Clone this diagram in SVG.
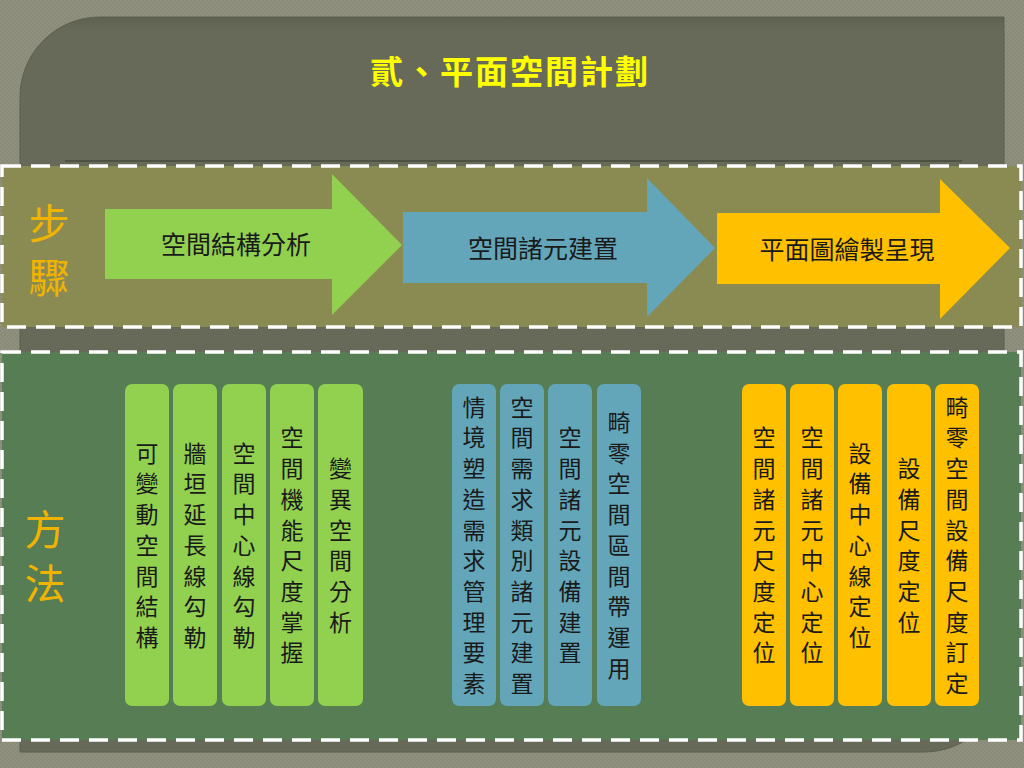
<svg xmlns="http://www.w3.org/2000/svg" width="1024" height="768" viewBox="0 0 1024 768">
<defs>
<pattern id="tex" width="4" height="4" patternUnits="userSpaceOnUse">
<rect width="4" height="4" fill="#8a8b79"/>
<rect width="2" height="2" fill="#8f907e"/>
<rect x="2" y="2" width="2" height="2" fill="#8f907e"/>
</pattern>
<linearGradient id="panelShade" x1="0" y1="0" x2="0" y2="1">
<stop offset="0" stop-color="#5f6251"/>
<stop offset="0.02" stop-color="#676a59"/>
<stop offset="1" stop-color="#676a59"/>
</linearGradient>
</defs>
<style>
.cjk{font-family:"Noto Sans CJK TC","Noto Sans CJK SC",sans-serif;}
.band{stroke:#ffffff;stroke-width:3.5;stroke-dasharray:19 10;}
.bt{font-family:"Noto Sans CJK TC","Noto Sans CJK SC",sans-serif;font-size:23px;fill:#1a1a1a;text-anchor:middle;writing-mode:vertical-rl;letter-spacing:7.7px;}
.at{font-family:"Noto Sans CJK TC","Noto Sans CJK SC",sans-serif;font-size:25px;fill:#1a1a1a;text-anchor:middle;}
.lab{font-family:"Noto Sans CJK TC","Noto Sans CJK SC",sans-serif;font-size:41px;fill:#f0b400;text-anchor:middle;writing-mode:vertical-rl;letter-spacing:13px;}
.g{fill:#92d050;}
.b{fill:#63a6b9;}
.y{fill:#ffc000;}
</style>
<rect width="1024" height="768" fill="url(#tex)"/>
<path d="M100,17 H1004 V672 A80,80 0 0 1 924,752 H20 V97 A80,80 0 0 1 100,17 Z" fill="url(#panelShade)" stroke="#5c5f4f" stroke-width="1"/>
<g id="title">
<text x="510" y="84" class="cjk" font-size="33" font-weight="bold" fill="#ffff00" text-anchor="middle" letter-spacing="2">貳、平面空間計劃</text>
<line x1="65" y1="161" x2="962" y2="161" stroke="#4e5244" stroke-width="2"/>
</g>
<g id="step-band">
<rect x="2" y="166" width="1019" height="161" fill="#8a8b52" class="band"/>
<text class="lab" x="49" y="256.5">步驟</text>
</g>
<g id="method-band">
<rect x="2" y="352" width="1019" height="388" fill="#567d53" class="band"/>
<text class="lab" x="45" y="562.5">方法</text>
</g>
<g id="connectors"></g>
<g id="step1">
<polygon class="g" points="105,209 332,209 332,174 402,245 332,315 332,279 105,279"/>
<text class="at" x="236" y="253.5">空間結構分析</text>
</g>
<g id="step2">
<polygon class="b" points="403,212 647,212 647,178 715,248 647,317 647,283 403,283"/>
<text class="at" x="543" y="258">空間諸元建置</text>
</g>
<g id="step3">
<polygon class="y" points="717,213 940,213 940,179 1010,248 940,319 940,284 717,284"/>
<text class="at" x="847" y="259">平面圖繪製呈現</text>
</g>
<g id="m-g1"><rect class="g" x="125" y="384" width="44" height="322" rx="7"/><text class="bt" x="147" y="549">可變動空間結構</text></g>
<g id="m-g2"><rect class="g" x="173" y="384" width="44" height="322" rx="7"/><text class="bt" x="195" y="549">牆垣延長線勾勒</text></g>
<g id="m-g3"><rect class="g" x="222" y="384" width="44" height="322" rx="7"/><text class="bt" x="244" y="549">空間中心線勾勒</text></g>
<g id="m-g4"><rect class="g" x="270" y="384" width="44" height="322" rx="7"/><text class="bt" x="292" y="549">空間機能尺度掌握</text></g>
<g id="m-g5"><rect class="g" x="318" y="384" width="45" height="322" rx="7"/><text class="bt" x="340.5" y="549">變異空間分析</text></g>
<g id="m-b1"><rect class="b" x="452" y="384" width="44" height="322" rx="7"/><text class="bt" x="474" y="549">情境塑造需求管理要素</text></g>
<g id="m-b2"><rect class="b" x="500" y="384" width="44" height="322" rx="7"/><text class="bt" x="522" y="549">空間需求類別諸元建置</text></g>
<g id="m-b3"><rect class="b" x="548" y="384" width="44" height="322" rx="7"/><text class="bt" x="570" y="549">空間諸元設備建置</text></g>
<g id="m-b4"><rect class="b" x="597" y="384" width="44" height="322" rx="7"/><text class="bt" x="619" y="549">畸零空間區間帶運用</text></g>
<g id="m-y1"><rect class="y" x="742" y="384" width="44" height="322" rx="7"/><text class="bt" x="764" y="549">空間諸元尺度定位</text></g>
<g id="m-y2"><rect class="y" x="790" y="384" width="44" height="322" rx="7"/><text class="bt" x="812" y="549">空間諸元中心定位</text></g>
<g id="m-y3"><rect class="y" x="838" y="384" width="44" height="322" rx="7"/><text class="bt" x="860" y="549">設備中心線定位</text></g>
<g id="m-y4"><rect class="y" x="887" y="384" width="44" height="322" rx="7"/><text class="bt" x="909" y="549">設備尺度定位</text></g>
<g id="m-y5"><rect class="y" x="935" y="384" width="44" height="322" rx="7"/><text class="bt" x="957" y="549">畸零空間設備尺度訂定</text></g>
</svg>
